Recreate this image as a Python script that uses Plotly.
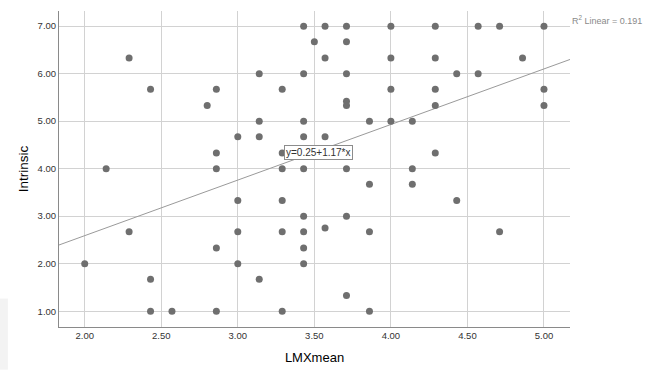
import plotly.graph_objects as go

# Data (LMXmean vs Intrinsic)
lmx_mean = [
    2.29, 2.43, 2.80, 2.86, 2.86, 2.86, 2.14, 3.43, 3.57, 3.71, 4.00, 3.50, 3.71,
    3.57, 4.00, 3.14, 3.43, 3.71, 3.29, 4.00, 3.71, 3.71, 3.14, 3.43, 3.86, 4.00,
    4.14, 3.00, 3.14, 3.43, 3.57, 3.29, 3.29, 3.43, 3.71, 4.14, 4.29, 4.57, 4.71,
    5.00, 4.29, 4.86, 4.43, 4.57, 4.29, 5.00, 4.29, 5.00, 4.29, 2.29, 2.00, 2.43,
    2.43, 2.57, 2.86, 2.86, 3.86, 4.14, 3.00, 3.29, 3.43, 3.71, 3.57, 3.00, 3.29,
    3.43, 3.86, 3.43, 3.00, 3.43, 3.14, 3.71, 3.29, 3.86, 4.43, 4.71,
]
intrinsic = [
    6.33, 5.67, 5.33, 5.67, 4.33, 4.00, 4.00, 7.00, 7.00, 7.00, 7.00, 6.67, 6.67,
    6.33, 6.33, 6.00, 6.00, 6.00, 5.67, 5.67, 5.42, 5.33, 5.00, 5.00, 5.00, 5.00,
    5.00, 4.67, 4.67, 4.67, 4.67, 4.33, 4.00, 4.00, 4.00, 4.00, 7.00, 7.00, 7.00,
    7.00, 6.33, 6.33, 6.00, 6.00, 5.67, 5.67, 5.33, 5.33, 4.33, 2.67, 2.00, 1.67,
    1.00, 1.00, 1.00, 2.33, 3.67, 3.67, 3.33, 3.33, 3.00, 3.00, 2.75, 2.67, 2.67,
    2.67, 2.67, 2.33, 2.00, 2.00, 1.67, 1.33, 1.00, 1.00, 3.33, 2.67,
]

x_ticks = [2.0, 2.5, 3.0, 3.5, 4.0, 4.5, 5.0]
y_ticks = [1.0, 2.0, 3.0, 4.0, 5.0, 6.0, 7.0]

intercept = 0.25
slope = 1.17
r2 = 0.191

x_range = [1.832, 5.170]
y_range = [0.667, 7.319]

fit_x = x_range
fit_y = [intercept + slope * v for v in fit_x]

FONT = "Liberation Sans, Arial, sans-serif"

fig = go.Figure()

fig.add_trace(go.Scatter(
    x=fit_x, y=fit_y, mode="lines",
    line=dict(color="#9a9a9a", width=1),
    hoverinfo="skip", showlegend=False,
))

fig.add_trace(go.Scatter(
    x=lmx_mean, y=intrinsic, mode="markers",
    marker=dict(color="#6f6f6f", size=7, line=dict(width=0)),
    showlegend=False,
))

fig.add_annotation(
    x=3.30, y=4.34, xref="x", yref="y",
    text="y=0.25+1.17*x", showarrow=False,
    xanchor="left", yanchor="middle",
    font=dict(family=FONT, size=10, color="#333333"),
    bgcolor="white", bordercolor="#8c8c8c", borderwidth=1, borderpad=1,
)

fig.add_annotation(
    x=1, y=1, xref="paper", yref="paper",
    text=f"R<sup>2</sup> Linear = {r2:.3f}", showarrow=False,
    xanchor="left", yanchor="top", xshift=0, yshift=-1,
    font=dict(family=FONT, size=9, color="#8a8a8a"),
)

fig.add_shape(
    type="rect", xref="paper", yref="paper",
    x0=-0.116, x1=-0.100, y0=-0.135, y1=0.09,
    line=dict(width=0), fillcolor="#f3f3f3", layer="below",
)

fig.update_xaxes(
    range=x_range, tickvals=x_ticks, tickformat=".2f",
    showgrid=True, gridcolor="#d2d2d2", gridwidth=1,
    showline=True, linecolor="#8a8a8a", linewidth=1,
    zeroline=False, ticks="",
    tickfont=dict(family=FONT, size=9.5, color="#333333"),
    title=dict(text="LMXmean", font=dict(family=FONT, size=13, color="#000000"), standoff=12),
)
fig.update_yaxes(
    range=y_range, tickvals=y_ticks, tickformat=".2f",
    showgrid=True, gridcolor="#d2d2d2", gridwidth=1,
    showline=True, linecolor="#8a8a8a", linewidth=1,
    zeroline=False, ticks="",
    tickfont=dict(family=FONT, size=9.5, color="#333333"),
    title=dict(text="Intrinsic", font=dict(family=FONT, size=13.5, color="#000000"), standoff=5),
)

fig.update_layout(
    width=648, height=374,
    margin=dict(l=59, r=78, t=11, b=43),
    paper_bgcolor="white", plot_bgcolor="white",
)

fig.write_html("out.html")
